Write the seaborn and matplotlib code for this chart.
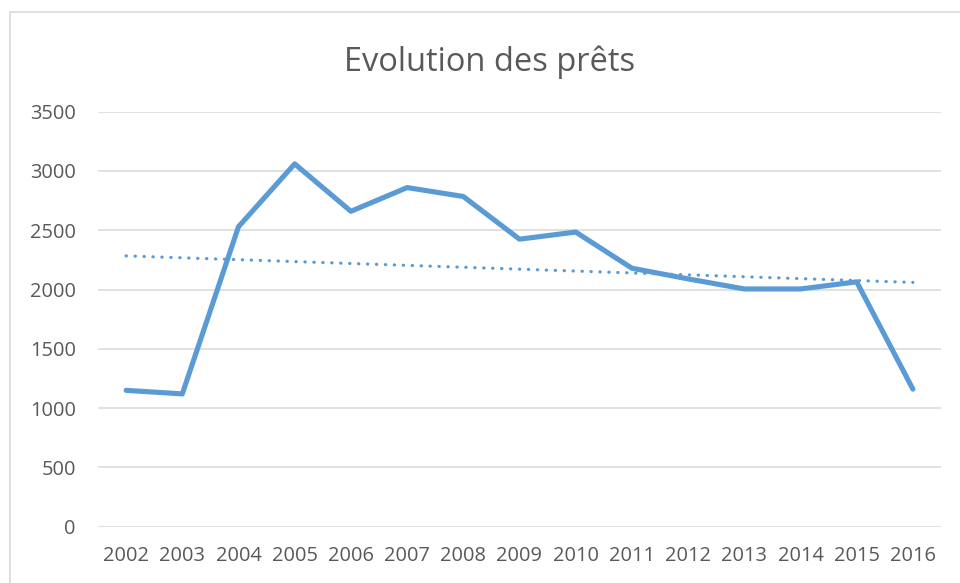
import pandas as pd
import numpy as np
import seaborn as sns
from matplotlib import pyplot as plt
from matplotlib.patches import Rectangle

# valeurs
annees = [2002, 2003, 2004, 2005, 2006, 2007, 2008, 2009, 2010, 2011, 2012, 2013, 2014, 2015, 2016]
prets = [1150, 1120, 2530, 3060, 2660, 2860, 2785, 2425, 2485, 2180, 2090, 2005, 2005, 2065, 1160]
yticks = [0, 500, 1000, 1500, 2000, 2500, 3000, 3500]

df = pd.DataFrame({"annee": annees, "prets": prets})

sns.set_theme(style="white")
plt.rcParams["font.family"] = ["Open Sans", "DejaVu Sans"]

bleu = "#5B9BD5"
gris = "#595959"

fig = plt.figure(figsize=(9.6, 5.83), dpi=100)
ax = fig.add_axes([98 / 960, 56.3 / 583, 843 / 960, 415 / 583])

sns.lineplot(data=df, x="annee", y="prets", ax=ax, color=bleu, linewidth=3.7,
             solid_capstyle="round", solid_joinstyle="round")
# courbe de tendance linéaire
sns.regplot(data=df, x="annee", y="prets", ax=ax, scatter=False, ci=None,
            line_kws={"color": bleu, "linewidth": 2.3, "linestyle": (0, (0.1, 2.7)),
                      "dash_capstyle": "round"})

ax.set_xlim(annees[0] - 0.5, annees[-1] + 0.5)
ax.set_ylim(0, 3500)
ax.set_xticks(annees)
ax.set_xticklabels([str(a) for a in annees])
ax.set_yticks(yticks)
ax.set_xlabel("")
ax.set_ylabel("")
ax.grid(axis="y", color="#d9d9d9", linewidth=1.1)
ax.set_axisbelow(True)
for s in ax.spines.values():
    s.set_visible(False)
ax.tick_params(axis="both", length=0, labelsize=14.4, colors=gris)
ax.tick_params(axis="y", pad=16)
ax.tick_params(axis="x", pad=14)

fig.text(490 / 960, 1 - 71 / 583, "Evolution des prêts", ha="center", va="baseline",
         fontsize=23.5, color=gris)

# cadre du graphique
fig.patches.append(Rectangle((10 / 960, -0.1), 1.2, 1.1 - 12 / 583, transform=fig.transFigure,
                             fill=False, edgecolor="#d9d9d9", linewidth=1.2))

fig.savefig("out.png", dpi=100)
